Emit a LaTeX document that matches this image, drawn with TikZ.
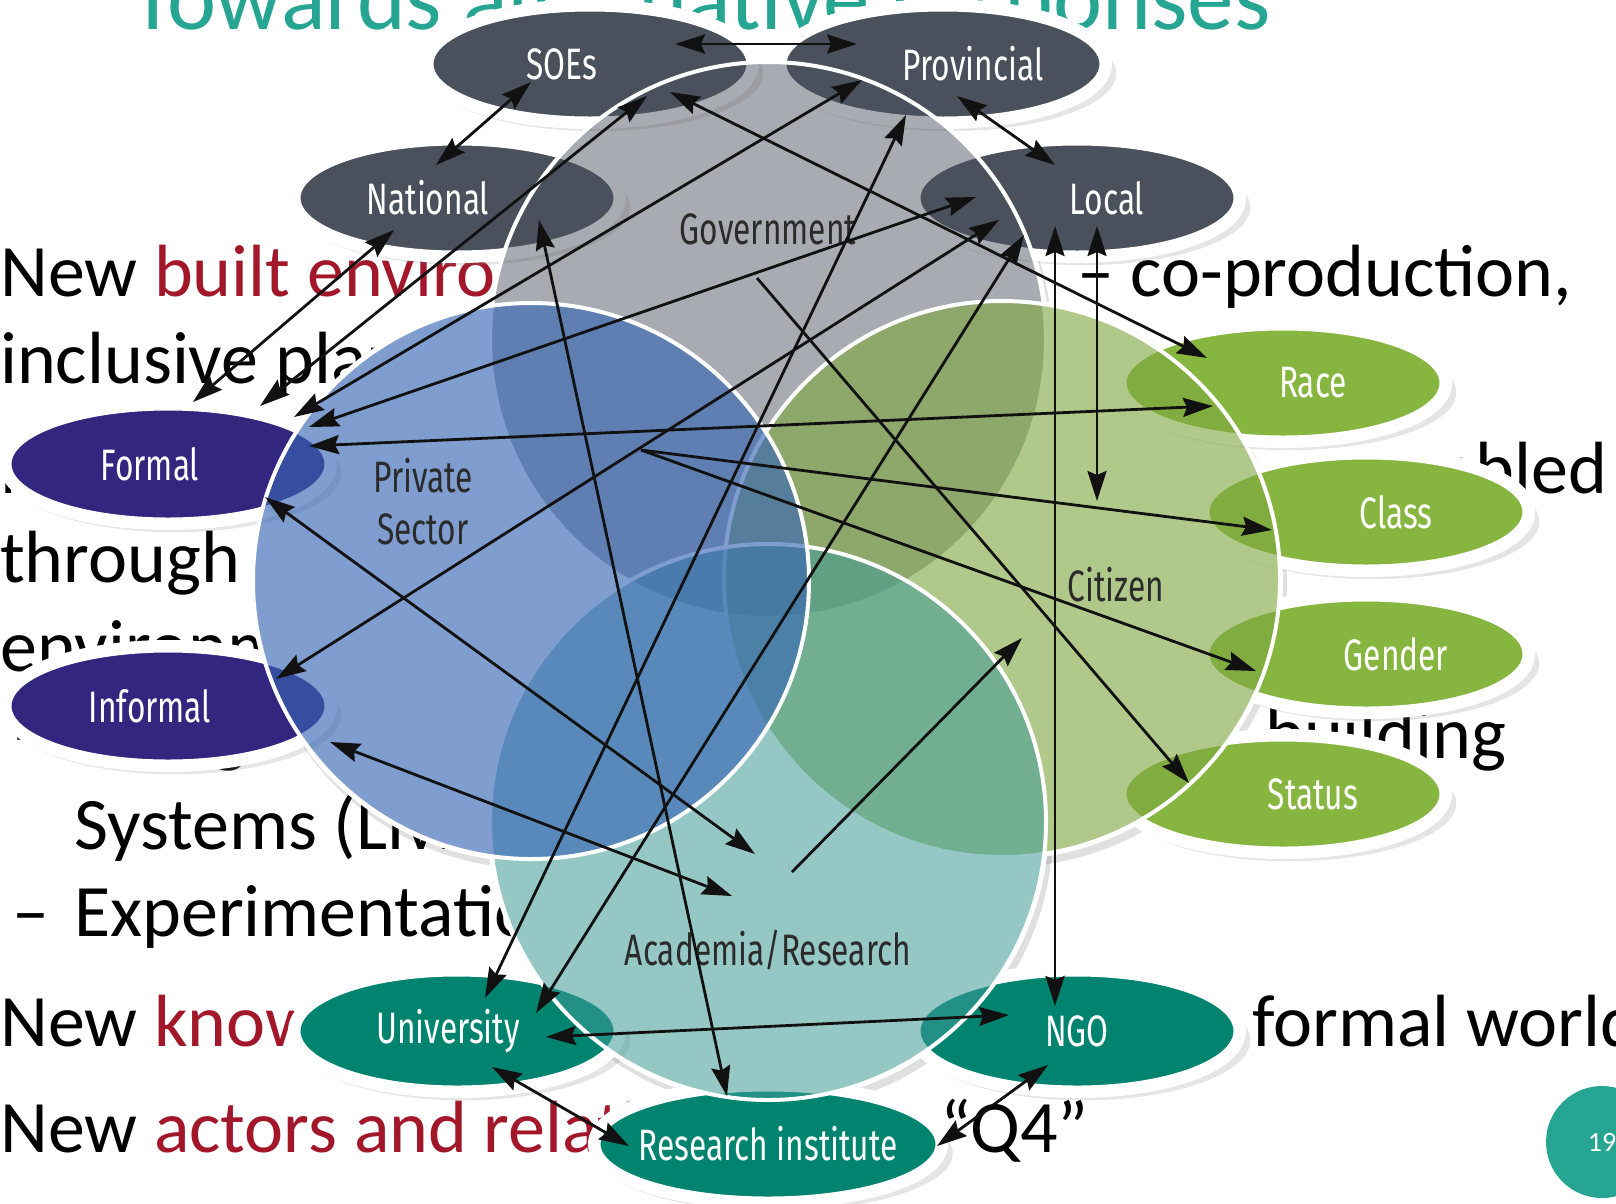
\documentclass[tikz,border=0pt]{standalone}
\usepackage{fontspec}
\setmainfont{Carlito}
\newfontfamily\labfont[FakeStretch=0.72]{Fira Sans}
\usetikzlibrary{calc,arrows.meta,shapes.geometric,shadows}
\definecolor{titleteal}{HTML}{26A592}
\definecolor{slidered}{HTML}{A3172B}
\definecolor{govgray}{HTML}{4B505D}
\definecolor{privblue}{HTML}{3766B4}
\definecolor{citzgreen}{HTML}{7FA63F}
\definecolor{acadteal}{HTML}{3E9B97}
\definecolor{infpurple}{HTML}{32267F}
\definecolor{idgreen}{HTML}{86B63F}
\definecolor{orgteal}{HTML}{00846F}
\definecolor{labgray}{HTML}{2B2B2B}
\definecolor{linkblack}{HTML}{111111}

\begin{document}
\begin{tikzpicture}[x=1pt,y=-1pt,
	body/.style={anchor=base west,inner sep=0pt,font=\fontsize{74}{80}\selectfont},
	actor/.style={ellipse,inner sep=0pt,minimum width=318pt,minimum height=110pt,draw=white,line width=5pt,
		drop shadow={shadow xshift=6pt,shadow yshift=-9pt,shadow scale=1.05,opacity=0.2},
		preaction={draw=white,line width=20pt}},
	tag/.style={text=white,font=\labfont\fontsize{44}{48}\selectfont},
	sector/.style={circle,inner sep=0pt,minimum size=556pt,draw=white,line width=4pt},
	sectorlabel/.style={text=labgray,font=\labfont\fontsize{44}{52}\selectfont,align=center,inner sep=0pt},
	link/.style={line width=2.8pt,draw=linkblack,fill=linkblack},
	twoway/.style={link,arrows={Stealth[length=30pt,width=19pt,inset=4pt]-Stealth[length=30pt,width=19pt,inset=4pt]}},
	oneway/.style={link,arrows={-Stealth[length=30pt,width=19pt,inset=4pt]}}]
	\fill[white] (0,0) rectangle (1616,1203);
	\useasboundingbox (0,0) rectangle (1616,1203);
	% slide text behind the diagram
	\node[body,text=titleteal,font=\fontsize{93}{100}\selectfont] (title) at (130,29) {Towards alternative responses};
	\node[body] (t1) at (0,296) {New \textcolor{slidered}{built environments}};
	\node[body] (t1r) at (1077,296) {– co-production,};
	\node[body] (t2) at (0,383) {inclusive planning};
	\node[body] (t3) at (0,493) {New};
	\node[body] (t3r) at (1364,493) {enabled};
	\node[body] (t4) at (0,582) {through innovation};
	\node[body] (t5) at (0,671) {environments};
	\node[body] (t6d) at (12,758) {–};
	\node[body] (t6) at (74,758) {Living};
	\node[body] (t6r) at (1265,758) {building};
	\node[body] (t7) at (74,849) {Systems (Living Labs)};
	\node[body] (t8d) at (12,936) {–};
	\node[body] (t8) at (74,936) {Experimentation};
	\node[body] (t9) at (0,1046) {New \textcolor{slidered}{knowledge}};
	\node[body] (t9r) at (1252,1046) {formal world};
	\node[body] (t10) at (0,1152) {New \textcolor{slidered}{actors and relations}};
	\node[body] (t10r) at (940,1152) {“Q4”};
	% diagram
	\coordinate (gc) at (768,340);
	\coordinate (pc) at (531,581);
	\coordinate (cc) at (1002,579);
	\coordinate (ac) at (768,822);
	\foreach \c in {gc,pc,cc,ac}
		\fill[black,opacity=0.12] ($(\c)+(4,7)$) circle (281pt);
	\foreach \c in {gc,pc,cc,ac}
		\fill[white] (\c) circle (281pt);
	\node[actor,fill=govgray,label={[tag,xshift=-28pt]center:SOEs}] (soes) at (590,64) {};
	\node[actor,fill=govgray,label={[tag,xshift=30pt]center:Provincial}] (prov) at (943,64) {};
	\node[actor,fill=govgray,label={[tag,xshift=-29pt]center:National}] (natl) at (457,198) {};
	\node[actor,fill=govgray,label={[tag,xshift=30pt]center:Local}] (local) at (1077,198) {};
	\node[actor,fill=infpurple,minimum height=112pt,label={[tag,xshift=-18pt]center:Formal}] (formal) at (168,464) {};
	\node[actor,fill=infpurple,minimum height=112pt,label={[tag,xshift=-18pt]center:Informal}] (informal) at (168,706) {};
	\node[actor,fill=idgreen,label={[tag,xshift=30pt]center:Race}] (race) at (1283,383) {};
	\node[actor,fill=idgreen,label={[tag,xshift=30pt]center:Class}] (class) at (1366,512) {};
	\node[actor,fill=idgreen,label={[tag,xshift=30pt]center:Gender}] (gender) at (1366,654) {};
	\node[actor,fill=idgreen,label={[tag,xshift=30pt]center:Status}] (status) at (1283,794) {};
	\node[actor,fill=orgteal,minimum height=114pt,label={[tag,xshift=-9pt]center:University}] (univ) at (457,1031) {};
	\node[actor,fill=orgteal,minimum height=114pt,label={[tag]center:NGO}] (ngo) at (1077,1031) {};
	\node[actor,fill=orgteal,minimum width=340pt,label={[tag]center:Research institute}] (resi) at (768,1144) {};
	\node[sector,fill=govgray,fill opacity=0.48] (gov) at (gc) {};
	\node[sector,fill=citzgreen,fill opacity=0.61] (citz) at (cc) {};
	\node[sector,fill=acadteal,fill opacity=0.55] (acad) at (ac) {};
	\node[sector,fill=privblue,fill opacity=0.64] (priv) at (pc) {};
	\node[sectorlabel] (govl) at (768,229) {Government};
	\node[sectorlabel] (privl) at (423,502) {Private\\Sector};
	\node[sectorlabel] (citzl) at (1116,585) {Citizen};
	\node[sectorlabel] (acadl) at (768,950) {Academia/Research};
	\foreach \a/\ax/\ay/\b/\bx/\by in {soes/85/-20/prov/-86/-20,soes/-59/18/natl/-21/-33,prov/14/32/local/-22/-33,
		natl/-63/32/formal/25/-62,soes/57/32/formal/92/-58,prov/-81/16/formal/126/-47,local/-101/-1/formal/141/-37,
		race/-70/23/formal/141/-18,soes/80/28/race/-76/-25,local/-78/22/informal/108/-27,local/-53/37/univ/79/-18,
		prov/-37/51/univ/28/-33,natl/82/22/resi/-41/-48,local/-22/28/ngo/-22/-25,local/20/28/citzl/-19/-84,
		formal/97/33/acadl/-13/-96,informal/162/36/acadl/-36/-54,univ/89/6/ngo/-68/-16,univ/35/36/resi/-139/2,
		resi/169/2/ngo/-29/34}
		\draw[twoway] ($(\a)+(\ax,\ay)$) -- ($(\b)+(\bx,\by)$);
	\foreach \a/\ax/\ay/\b/\bx/\by in {govl/-11/49/status/-94/-11,privl/218/-52/class/-94/18,
		privl/218/-52/gender/-110/17,acadl/24/-78/citzl/-94/53}
		\draw[oneway] ($(\a)+(\ax,\ay)$) -- ($(\b)+(\bx,\by)$);
	\node[circle,fill=titleteal,minimum size=112pt,inner sep=0pt,text=white,font=\fontsize{28}{30}\selectfont] (page) at (1602,1142) {19};
\end{tikzpicture}
\end{document}
